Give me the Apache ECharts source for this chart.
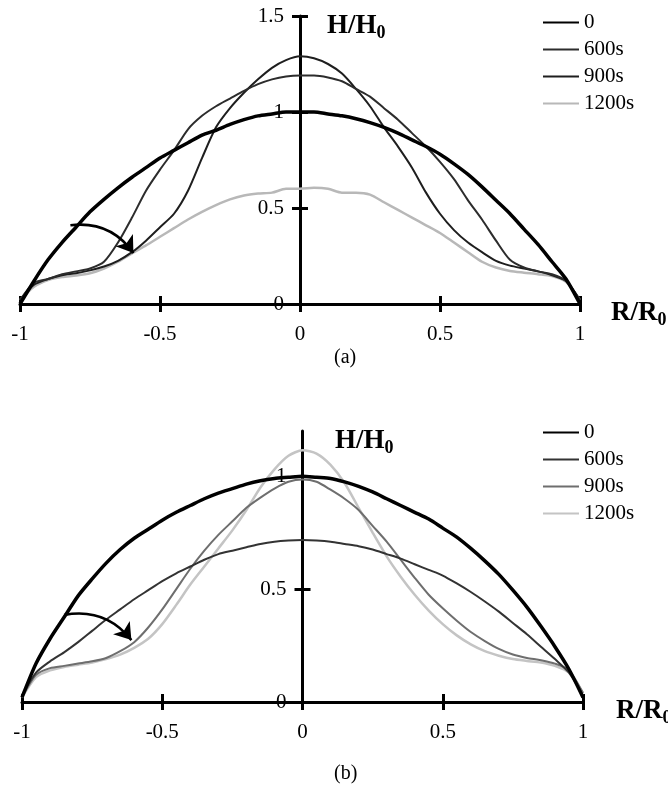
<!DOCTYPE html>
<html><head><meta charset="utf-8">
<script src="https://cdn.jsdelivr.net/npm/echarts@6/dist/echarts.min.js"></script>
<style>html,body{margin:0;padding:0;background:#fff}#c{width:668px;height:790px}</style>
</head><body><div id="c"></div>
<script>
// radial position R/R0 (shared by all curves)
const R = [-1,-0.95,-0.9,-0.85,-0.8,-0.75,-0.7,-0.65,-0.6,-0.55,-0.5,-0.45,-0.4,-0.35,-0.3,-0.25,-0.2,-0.15,-0.1,-0.05,0,0.05,0.1,0.15,0.2,0.25,0.3,0.35,0.4,0.45,0.5,0.55,0.6,0.65,0.7,0.75,0.8,0.85,0.9,0.95,1];
// panel (a) H/H0
const a0    = [0,0.12,0.23,0.32,0.40,0.48,0.545,0.605,0.66,0.71,0.76,0.80,0.84,0.88,0.905,0.935,0.96,0.98,0.99,1.0,1.0,1.0,0.99,0.98,0.965,0.945,0.92,0.89,0.855,0.82,0.78,0.73,0.675,0.61,0.54,0.47,0.39,0.31,0.22,0.13,0];
const a600  = [0.02,0.11,0.13,0.155,0.17,0.185,0.22,0.32,0.45,0.59,0.70,0.80,0.91,0.98,1.03,1.07,1.11,1.145,1.17,1.185,1.19,1.19,1.18,1.16,1.12,1.08,1.02,0.96,0.89,0.82,0.74,0.65,0.54,0.44,0.33,0.23,0.19,0.17,0.155,0.12,0.02];
const a900  = [0.02,0.10,0.13,0.15,0.16,0.175,0.195,0.225,0.27,0.33,0.40,0.47,0.59,0.76,0.92,1.02,1.10,1.17,1.23,1.27,1.29,1.28,1.25,1.20,1.12,1.03,0.92,0.82,0.71,0.58,0.47,0.385,0.32,0.27,0.225,0.20,0.185,0.17,0.15,0.12,0.02];
const a1200 = [0.02,0.09,0.125,0.14,0.148,0.16,0.185,0.22,0.264,0.305,0.35,0.395,0.44,0.48,0.515,0.545,0.565,0.575,0.58,0.60,0.60,0.605,0.60,0.58,0.58,0.57,0.53,0.49,0.45,0.41,0.37,0.32,0.27,0.22,0.19,0.172,0.163,0.155,0.145,0.115,0.02];
// panel (b) H/H0
const b0    = [0.02,0.17,0.28,0.375,0.47,0.545,0.615,0.675,0.725,0.765,0.805,0.84,0.87,0.90,0.925,0.945,0.965,0.98,0.99,0.995,1.0,0.995,0.99,0.975,0.955,0.93,0.90,0.87,0.84,0.81,0.77,0.73,0.68,0.625,0.565,0.495,0.42,0.335,0.245,0.145,0.02];
const b600  = [0.03,0.13,0.18,0.22,0.265,0.315,0.365,0.41,0.455,0.495,0.535,0.57,0.60,0.63,0.655,0.67,0.685,0.70,0.71,0.715,0.717,0.715,0.71,0.70,0.69,0.675,0.655,0.635,0.61,0.585,0.56,0.525,0.487,0.445,0.40,0.35,0.30,0.245,0.19,0.13,0.03];
const b900  = [0.02,0.12,0.15,0.16,0.17,0.18,0.195,0.225,0.265,0.33,0.41,0.50,0.59,0.67,0.74,0.80,0.86,0.905,0.945,0.975,0.985,0.975,0.94,0.90,0.85,0.78,0.71,0.63,0.55,0.475,0.415,0.36,0.31,0.27,0.235,0.21,0.195,0.185,0.17,0.14,0.04];
const b1200 = [0.02,0.11,0.14,0.155,0.165,0.175,0.19,0.21,0.24,0.28,0.345,0.43,0.52,0.60,0.68,0.76,0.85,0.95,1.03,1.09,1.115,1.10,1.05,0.97,0.86,0.75,0.645,0.555,0.475,0.405,0.345,0.295,0.255,0.225,0.205,0.19,0.182,0.175,0.16,0.13,0.04];
// legend labels and axis ticks
const legendNames = ['0','600s','900s','1200s'];
const xTicks = [-1,-0.5,0,0.5,1];
const yTicksA = [0,0.5,1,1.5];
const yTicksB = [0,0.5,1];
// time-direction arrows (start, end) in data units
const arrowA = [[-0.82,0.41],[-0.595,0.265]];
const arrowB = [[-0.85,0.385],[-0.61,0.274]];

const W = 668;
const FONT = '"Liberation Serif","Times New Roman",serif';
const pair = ys => R.map((x,i)=>[x, ys[i]]);
const grids = [{left:20, right:88, top:16, bottom:486}, {left:22, right:85, top:431, bottom:88}];

function xAxes(g){
  const base = {type:'value', gridIndex:g, min:-1, max:1, interval:0.5, position:'bottom',
    splitLine:{show:false}};
  return [
    Object.assign({}, base, {
      axisLine:{show:true, onZero:false, lineStyle:{color:'#000', width:3}},
      axisTick:{show:true, length:8, customValues:xTicks, lineStyle:{color:'#000', width:3}},
      axisLabel:{show:true, customValues:xTicks, margin:20, color:'#000', fontSize:21, fontFamily:FONT}
    }),
    Object.assign({}, base, {
      axisLine:{show:false, onZero:false},
      axisTick:{show:true, inside:true, length:8, customValues:xTicks, lineStyle:{color:'#000', width:3}},
      axisLabel:{show:false}
    })
  ];
}
function yAxes(g, max, ticks){
  // put the vertical axis at R/R0 = 0 (middle of the grid)
  const gw = W - grids[g].left - grids[g].right;
  const base = {type:'value', gridIndex:g, min:0, max:max, interval:0.5, position:'left',
    offset:-gw/2, splitLine:{show:false}};
  return [
    Object.assign({}, base, {
      axisLine:{show:true, onZero:false, lineStyle:{color:'#000', width:3}},
      axisTick:{show:true, length:8, customValues:ticks, lineStyle:{color:'#000', width:3}},
      axisLabel:{show:true, customValues:ticks, margin:16, color:'#000', fontSize:21, fontFamily:FONT}
    }),
    Object.assign({}, base, {
      axisLine:{show:false, onZero:false},
      axisTick:{show:true, inside:true, length:8, customValues:ticks, lineStyle:{color:'#000', width:3}},
      axisLabel:{show:false}
    })
  ];
}
function curve(g, name, ys, color, width){
  return {type:'line', name:name, xAxisIndex:g*2, yAxisIndex:g*2, data:pair(ys),
    symbol:'none', smooth:0.25, color:color, lineStyle:{color:color, width:width}, z:3};
}
function arrow(g, coords){
  return {type:'lines', coordinateSystem:'cartesian2d', xAxisIndex:g*2, yAxisIndex:g*2,
    symbol:['none','arrow'], symbolSize:16, z:5,
    lineStyle:{color:'#000', width:2.5, curveness:0.3, opacity:1},
    data:[{coords:coords}]};
}
const rich = {
  m:{fontSize:27, fontWeight:'bold', fontFamily:FONT, color:'#000'},
  s:{fontSize:18, fontWeight:'bold', fontFamily:FONT, color:'#000', padding:[14,0,0,0]}
};
const cap = {fontSize:20, fontWeight:'normal', fontFamily:FONT, color:'#000'};
function legend(prefix, top){
  return {orient:'vertical', left:537, top:top, itemWidth:36, itemHeight:14, itemGap:6,
    data:legendNames.map(n=>prefix+'|'+n), formatter:n=>n.split('|')[1],
    itemStyle:{opacity:0},
    textStyle:{fontFamily:FONT, fontSize:21, color:'#000', lineHeight:21}};
}

const option = {
  animation:false,
  backgroundColor:'#fff',
  grid:grids.map(g=>Object.assign({outerBoundsMode:'none', containLabel:false}, g)),
  xAxis:[...xAxes(0), ...xAxes(1)],
  yAxis:[...yAxes(0, 1.5, yTicksA), ...yAxes(1, 1.2, yTicksB)],
  title:[
    {text:'{m|H/H}{s|0}', left:322, top:5, textStyle:{rich:rich}},
    {text:'{m|R/R}{s|0}', left:606, top:292, textStyle:{rich:rich}},
    {text:'(a)', left:329, top:343, textStyle:cap},
    {text:'{m|H/H}{s|0}', left:330, top:420, textStyle:{rich:rich}},
    {text:'{m|R/R}{s|0}', left:611, top:690, textStyle:{rich:rich}},
    {text:'(b)', left:329, top:759, textStyle:cap}
  ],
  legend:[legend('a', 7), legend('b', 417)],
  series:[
    curve(0,'a|1200s',a1200,'#b8b8b8',2.5),
    curve(0,'a|900s',a900,'#1e1e1e',2),
    curve(0,'a|600s',a600,'#2c2c2c',2),
    curve(0,'a|0',a0,'#000',3.5),
    arrow(0, arrowA),
    curve(1,'b|1200s',b1200,'#c4c4c4',2.5),
    curve(1,'b|900s',b900,'#6e6e6e',2),
    curve(1,'b|600s',b600,'#333',2),
    curve(1,'b|0',b0,'#000',3.5),
    arrow(1, arrowB)
  ]
};
const chart = echarts.init(document.getElementById('c'), null, {renderer:'canvas'});
chart.setOption(option);
</script>
</body></html>
